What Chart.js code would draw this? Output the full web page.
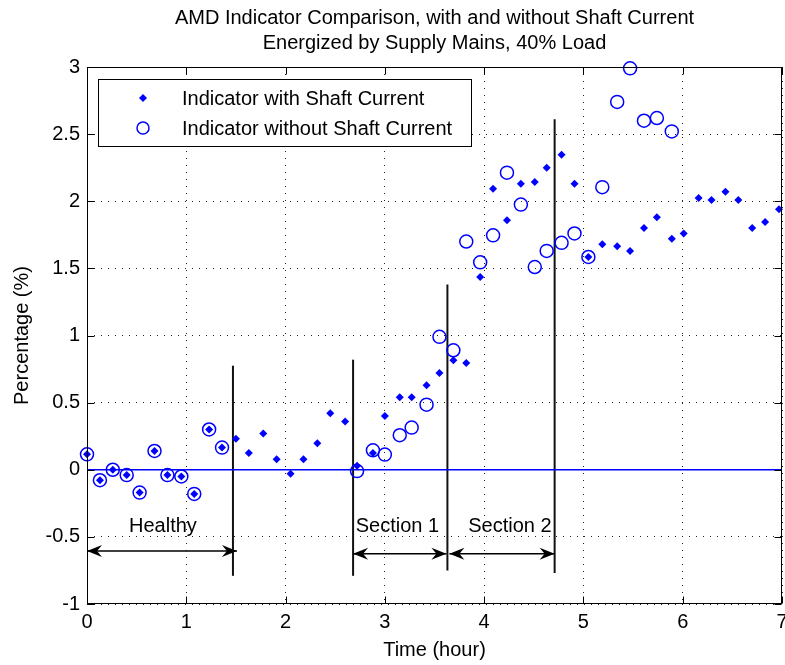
<!DOCTYPE html>
<html>
<head>
<meta charset="utf-8">
<title>AMD Indicator Comparison</title>
<script src="https://cdn.jsdelivr.net/npm/chart.js@4.4.0/dist/chart.umd.min.js"></script>
<style>
  html, body { margin: 0; padding: 0; background: #fff; }
  canvas { display: block; }
</style>
</head>
<body>
<canvas id="amdChart" width="785" height="665"></canvas>
<script>
// sample times in hours
const times = [0.00, 0.13, 0.26, 0.40, 0.53, 0.68, 0.81, 0.95, 1.08, 1.23, 1.36, 1.50, 1.63, 1.775, 1.91, 2.05, 2.18,
    2.32, 2.45, 2.60, 2.72, 2.88, 3.00, 3.15, 3.27, 3.42, 3.55, 3.69, 3.82, 3.96, 4.09, 4.23, 4.37, 4.51, 4.63, 4.78,
    4.91, 5.05, 5.19, 5.34, 5.47, 5.61, 5.74, 5.89, 6.01, 6.16, 6.29, 6.43, 6.56, 6.70, 6.83, 6.97];

const withShaft = [0.115, -0.078, 0.0, -0.04, -0.17, 0.14, -0.04, -0.05, -0.18, 0.30, 0.165, 0.23, 0.125, 0.27, 0.078,
    -0.03, 0.078, 0.197, 0.42, 0.36, 0.03, 0.125, 0.40, 0.54, 0.54, 0.63, 0.72, 0.815, 0.795, 1.435, 2.094, 1.858,
    2.13, 2.143, 2.25, 2.347, 2.13, 1.585, 1.68, 1.665, 1.63, 1.80, 1.88, 1.72, 1.76, 2.025, 2.01, 2.07, 2.01, 1.80,
    1.845, 1.94];

const withoutShaft = [0.115, -0.078, 0.0, -0.04, -0.17, 0.14, -0.04, -0.05, -0.18, 0.30, 0.165,
    null, null, null, null, null, null, null, null, null,
    -0.01, 0.145, 0.113, 0.257, 0.314, 0.485, 0.99, 0.89, 1.70, 1.545, 1.746, 2.213, 1.975, 1.51, 1.63, 1.69, 1.76,
    1.585, 2.105, 2.74, 2.99, 2.60, 2.62, 2.52,
    null, null, null, null, null, null, null, null];

const xTicks = [0, 1, 2, 3, 4, 5, 6, 7];
const yTicks = [-1, -0.5, 0, 0.5, 1, 1.5, 2, 2.5, 3];

// vertical section markers: [x, yBottom, yTop]
const sectionLines = [[1.47, -0.79, 0.775], [2.68, -0.79, 0.82], [3.63, -0.75, 1.38], [4.71, -0.77, 2.61]];
// double arrows: [label, fromX, toX, arrowY, labelX]
const sectionSpans = [
    ["Healthy", 0.0, 1.51, -0.605, 0.765],
    ["Section 1", 2.68, 3.62, -0.625, 3.127],
    ["Section 2", 3.65, 4.71, -0.625, 4.26]
];
const spanLabelY = -0.42;

const titleLines = ["AMD Indicator Comparison, with and without Shaft Current", "Energized by Supply Mains, 40% Load"];
const seriesNames = ["Indicator with Shaft Current", "Indicator without Shaft Current"];

const BLUE = "#0000ff";
const FONT_FAMILY = '"Liberation Sans", Arial, sans-serif';
const FONT = "20px " + FONT_FAMILY;

function toPoints(ys) {
    return times.map((t, i) => ({ x: t, y: ys[i] })).filter(p => p.y !== null);
}

function drawArrowHead(ctx, tx, ty, dir) {
    const len = 15, half = 6, notch = 10;
    ctx.beginPath();
    ctx.moveTo(tx, ty);
    ctx.lineTo(tx - dir * len, ty - half);
    ctx.lineTo(tx - dir * notch, ty);
    ctx.lineTo(tx - dir * len, ty + half);
    ctx.closePath();
    ctx.fill();
}

function drawDiamond(ctx, cx, cy, r) {
    ctx.beginPath();
    ctx.moveTo(cx - r, cy);
    ctx.lineTo(cx, cy - r);
    ctx.lineTo(cx + r, cy);
    ctx.lineTo(cx, cy + r);
    ctx.closePath();
    ctx.fill();
}

// matlab-like decorations: box, inward ticks, arrows, texts, legend, title
const matlabDecor = {
    id: "matlabDecor",
    afterDraw(chart) {
        const { ctx, chartArea: a, scales: { x, y } } = chart;
        ctx.save();

        // box
        ctx.strokeStyle = "#000";
        ctx.lineWidth = 1;
        const L = Math.round(a.left) + 0.5, R = Math.round(a.right) - 0.5;
        const T = Math.round(a.top) + 0.5, B = Math.round(a.bottom) - 0.5;
        ctx.strokeRect(L, T, R - L, B - T);

        // inward ticks
        const tl = 7;
        ctx.beginPath();
        xTicks.forEach(v => {
            const px = Math.round(x.getPixelForValue(v)) + 0.5;
            ctx.moveTo(px, B); ctx.lineTo(px, B - tl);
            ctx.moveTo(px, T); ctx.lineTo(px, T + tl);
        });
        yTicks.forEach(v => {
            const py = Math.round(y.getPixelForValue(v)) + 0.5;
            ctx.moveTo(L, py); ctx.lineTo(L + tl, py);
            ctx.moveTo(R, py); ctx.lineTo(R - tl, py);
        });
        ctx.stroke();

        // section arrows and labels
        ctx.fillStyle = "#000";
        ctx.strokeStyle = "#000";
        ctx.lineWidth = 1.5;
        ctx.font = FONT;
        ctx.textAlign = "center";
        ctx.textBaseline = "middle";
        sectionSpans.forEach(([label, x0, x1, ay, lx]) => {
            const p0 = x.getPixelForValue(x0), p1 = x.getPixelForValue(x1);
            const py = y.getPixelForValue(ay);
            ctx.beginPath();
            ctx.moveTo(p0, py);
            ctx.lineTo(p1, py);
            ctx.stroke();
            drawArrowHead(ctx, p0, py, -1);
            drawArrowHead(ctx, p1, py, 1);
            ctx.fillText(label, x.getPixelForValue(lx), y.getPixelForValue(spanLabelY));
        });

        // legend
        const lx = a.left + 11, ly = a.top + 12, lw = 373, lh = 67;
        ctx.fillStyle = "#fff";
        ctx.fillRect(lx, ly, lw, lh);
        ctx.strokeStyle = "#000";
        ctx.lineWidth = 1;
        ctx.strokeRect(Math.round(lx) + 0.5, Math.round(ly) + 0.5, lw, lh);
        ctx.fillStyle = BLUE;
        drawDiamond(ctx, lx + 45, ly + 19, 4);
        ctx.strokeStyle = BLUE;
        ctx.lineWidth = 1.5;
        ctx.beginPath();
        ctx.arc(lx + 45, ly + 49, 6, 0, Math.PI * 2);
        ctx.stroke();
        ctx.fillStyle = "#000";
        ctx.textAlign = "left";
        ctx.fillText(seriesNames[0], lx + 84, ly + 20);
        ctx.fillText(seriesNames[1], lx + 84, ly + 50);

        // title, centred over the axes
        ctx.textAlign = "center";
        const cx = (a.left + a.right) / 2;
        ctx.fillText(titleLines[0], cx, 18);
        ctx.fillText(titleLines[1], cx, 43);

        ctx.restore();
    }
};

const datasets = [
    {
        label: seriesNames[0],
        data: toPoints(withShaft),
        pointStyle: "rectRot",
        pointRadius: 4,
        pointBorderWidth: 0,
        backgroundColor: BLUE,
        borderColor: BLUE,
        clip: false
    },
    {
        label: seriesNames[1],
        data: toPoints(withoutShaft),
        pointStyle: "circle",
        pointRadius: 6.5,
        pointBorderWidth: 1.5,
        backgroundColor: "rgba(0,0,0,0)",
        borderColor: BLUE,
        clip: false
    },
    {
        label: "zero",
        type: "line",
        data: [{ x: xTicks[0], y: 0 }, { x: xTicks[xTicks.length - 1], y: 0 }],
        borderColor: BLUE,
        borderWidth: 1.5,
        pointRadius: 0
    }
];

sectionLines.forEach(([sx, y0, y1]) => {
    datasets.push({
        label: "section",
        type: "line",
        data: [{ x: sx, y: y0 }, { x: sx, y: y1 }],
        borderColor: "#111",
        borderWidth: 2,
        pointRadius: 0
    });
});

const tickFont = { size: 20, family: FONT_FAMILY };

new Chart(document.getElementById("amdChart"), {
    type: "scatter",
    data: { datasets },
    options: {
        responsive: false,
        animation: false,
        layout: { autoPadding: false, padding: { top: 67, right: 3, left: 0, bottom: 0 } },
        plugins: {
            legend: { display: false },
            title: { display: false },
            tooltip: { enabled: false }
        },
        scales: {
            x: {
                type: "linear",
                min: 0,
                max: 7,
                afterBuildTicks: scale => { scale.ticks = xTicks.map(v => ({ value: v })); },
                afterFit: scale => {
                    scale.height = 61;
                    scale.paddingLeft = 0;
                    scale.paddingRight = 0;
                },
                ticks: { color: "#000", padding: 6, font: tickFont, callback: v => String(v) },
                grid: { color: "#222", drawTicks: false },
                border: { display: false, dash: [1, 6] },
                title: {
                    display: true,
                    text: "Time (hour)",
                    color: "#000",
                    font: tickFont,
                    padding: { top: 0, bottom: 3 }
                }
            },
            y: {
                type: "linear",
                min: -1,
                max: 3,
                afterBuildTicks: scale => { scale.ticks = yTicks.map(v => ({ value: v })); },
                afterFit: scale => {
                    scale.width = 87;
                    scale.paddingTop = 0;
                    scale.paddingBottom = 0;
                },
                ticks: { color: "#000", padding: 7, font: tickFont, callback: v => String(v) },
                grid: { color: "#222", drawTicks: false },
                border: { display: false, dash: [1, 6] },
                title: {
                    display: true,
                    text: "Percentage (%)",
                    color: "#000",
                    font: tickFont,
                    padding: { top: 10, bottom: 0 }
                }
            }
        }
    },
    plugins: [matlabDecor]
});
</script>
</body>
</html>
